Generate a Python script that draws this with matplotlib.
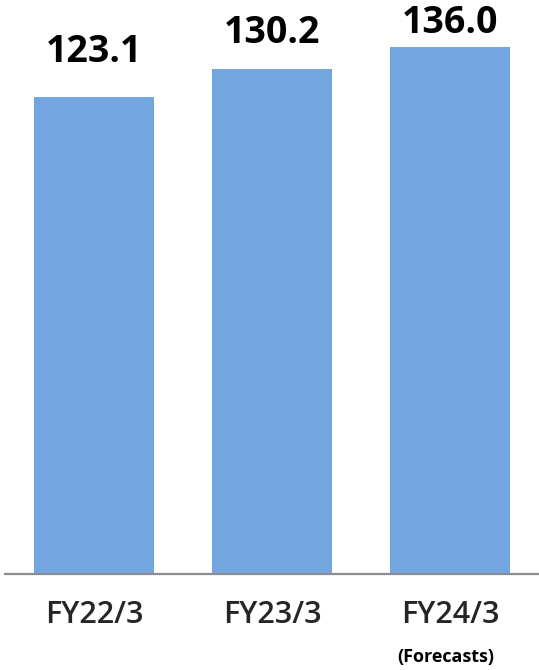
import numpy as np
import matplotlib
matplotlib.use("Agg")
import matplotlib.pyplot as plt

# data
periods = ["FY22/3", "FY23/3", "FY24/3"]
values = [123.1, 130.2, 136.0]
value_labels = ["123.1", "130.2", "136.0"]
note = "(Forecasts)"

# label gaps above each bar (points), as placed in the original
label_gap = [25, 19, 10]

plt.rcParams['font.family'] = ['Open Sans', 'DejaVu Sans']

fig = plt.figure(figsize=(5.39, 6.70), dpi=100)
ax = fig.add_axes([5 / 539, 96 / 670, 534 / 539, 574 / 670])

x = np.arange(len(periods))
bars = ax.bar(x, values, width=0.67, color='#73A6E0', zorder=2)

for xi, v, lab, gap in zip(x, values, value_labels, label_gap):
    ax.annotate(lab, (xi, v), xytext=(0, gap), textcoords='offset points',
                ha='center', va='baseline', fontsize=27, fontweight='bold',
                color='black')

ax.set_xlim(-0.5, 2.5)
ax.set_ylim(0, 148.1)
ax.set_xticks(x)
ax.set_xticklabels(periods, fontsize=22, color='#262626', fontweight='semibold')
ax.tick_params(axis='x', length=0, pad=19)
ax.set_yticks([])

for side in ['top', 'right', 'left']:
    ax.spines[side].set_visible(False)
ax.spines['bottom'].set_color('#8C8C8C')
ax.spines['bottom'].set_linewidth(1.6)

ax.annotate(note, (x[-1], 0), xytext=(-3, -53), textcoords='offset points',
            ha='center', va='top', fontsize=13, fontweight='bold',
            color='black', annotation_clip=False)

fig.savefig('out.png', dpi=100)
